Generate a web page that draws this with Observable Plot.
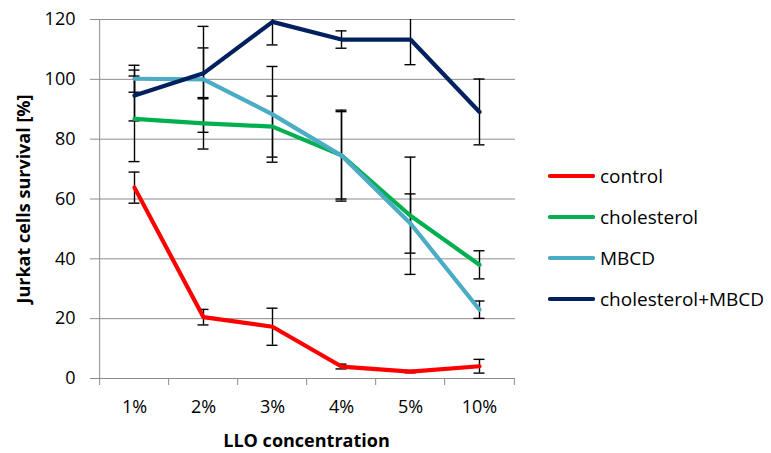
<!DOCTYPE html>
<html>
<head>
<meta charset="utf-8">
<script src="https://cdn.jsdelivr.net/npm/d3@7"></script>
<script src="https://cdn.jsdelivr.net/npm/@observablehq/plot@0.6"></script>
<style>
  html, body { margin: 0; padding: 0; background: #fff; }
  #wrap { position: relative; width: 771px; height: 453px; font-family: 'Open Sans', sans-serif; }
  #legend { position: absolute; left: 548px; top: 0; }
  .item { position: absolute; left: 0; display: flex; align-items: center; white-space: nowrap; font-size: 19px; color: #000; }
  .item svg { margin-right: 5px; }
</style>
</head>
<body>
<div id="wrap"><div id="legend"></div></div>
<script>
const categories = ["1%", "2%", "3%", "4%", "5%", "10%"];
const seriesNames = ["control", "cholesterol", "MBCD", "cholesterol+MBCD"];
const seriesColors = ["#ff0000", "#00b050", "#4bacc6", "#002060"];
const yTicks = [0, 20, 40, 60, 80, 100, 120];

const control = [63.8, 20.5, 17.3, 4.0, 2.3, 4.1];
const controlErr = [5.2, 2.6, 6.2, 0.8, 0.4, 2.3];
const cholesterol = [86.8, 85.3, 84.2, 74.6, 54.4, 38.0];
const cholesterolErr = [14.3, 8.6, 10.2, 14.6, 19.6, 4.7];
const mbcd = [100.2, 100.0, 88.3, 74.5, 51.8, 23.0];
const mbcdErr = [4.5, 17.7, 16.0, 15.2, 9.9, 2.9];
const cholMbcd = [94.6, 102.0, 119.2, 113.3, 113.3, 89.1];
const cholMbcdErr = [8.5, 8.5, 7.7, 2.9, 8.4, 11.0];

const values = [control, cholesterol, mbcd, cholMbcd];
const errors = [controlErr, cholesterolErr, mbcdErr, cholMbcdErr];

const rows = [];
seriesNames.forEach((s, si) => {
  categories.forEach((c, ci) => {
    rows.push({series: s, cat: c, value: values[si][ci], lo: values[si][ci] - errors[si][ci], hi: values[si][ci] + errors[si][ci]});
  });
});

const W = 771, H = 453, mL = 97, mR = 256, mT = 19, mB = 75;
const step = (W - mL - mR) / categories.length;
const gray = "#8c8c8c";

const chart = Plot.plot({
  width: W,
  height: H,
  marginLeft: mL,
  marginRight: mR,
  marginTop: mT,
  marginBottom: mB,
  style: {fontFamily: "'Open Sans', sans-serif", fontSize: "18px", background: "#fff", color: "#000"},
  x: {type: "point", domain: categories, padding: 0.5, align: 0.5},
  y: {domain: [0, 120]},
  color: {domain: seriesNames, range: seriesColors},
  marks: [
    Plot.gridY(yTicks, {stroke: gray, strokeOpacity: 1, strokeWidth: 1}),
    Plot.ruleX([categories[0]], {x: d => d, dx: -step / 2, stroke: gray, strokeWidth: 1}),
    Plot.ruleX(categories, {x: d => d, y1: 0, y2: 0, dx: -step / 2, insetBottom: -7, stroke: gray}),
    Plot.ruleX([categories[categories.length - 1]], {x: d => d, y1: 0, y2: 0, dx: step / 2, insetBottom: -7, stroke: gray}),
    Plot.axisY({ticks: yTicks, tickSize: 7, tickPadding: 15, stroke: gray, fill: "#000", fontSize: 18, label: null}),
    Plot.axisX({tickSize: 0, tickPadding: 22, fill: "#000", fontSize: 18, label: null}),
    Plot.ruleX(rows, {x: "cat", y1: "lo", y2: "hi", stroke: "#000", strokeWidth: 1.4, clip: true}),
    Plot.ruleY(rows, {x1: "cat", x2: "cat", y: "hi", stroke: "#000", strokeWidth: 1.4, insetLeft: -5.5, insetRight: -5.5, clip: true}),
    Plot.ruleY(rows, {x1: "cat", x2: "cat", y: "lo", stroke: "#000", strokeWidth: 1.4, insetLeft: -5.5, insetRight: -5.5, clip: true}),
    Plot.line(rows, {x: "cat", y: "value", z: "series", stroke: "series", strokeWidth: 4.2, strokeLinejoin: "round", strokeLinecap: "round"}),
    Plot.text(["LLO concentration"], {text: d => d, frameAnchor: "bottom", dy: 63, lineAnchor: "middle", fontWeight: "bold", fontSize: 18, fill: "#000"}),
    Plot.text(["Jurkat cells survival [%]"], {text: d => d, frameAnchor: "left", dx: -73, rotate: -90, textAnchor: "middle", lineAnchor: "middle", fontWeight: "bold", fontSize: 18, fill: "#000"})
  ]
});

const wrap = document.getElementById("wrap");
wrap.insertBefore(chart, wrap.firstChild);

const legend = d3.select("#legend");
const rowTops = [176, 217, 258, 299];
seriesNames.forEach((s, i) => {
  const item = legend.append("div").attr("class", "item").style("top", (rowTops[i] - 14) + "px").style("height", "28px");
  const sv = item.append("svg").attr("width", 47).attr("height", 8);
  sv.append("line").attr("x1", 2).attr("x2", 45).attr("y1", 4).attr("y2", 4)
    .attr("stroke", seriesColors[i]).attr("stroke-width", 4.2).attr("stroke-linecap", "round");
  item.append("span").text(s);
});
</script>
</body>
</html>
